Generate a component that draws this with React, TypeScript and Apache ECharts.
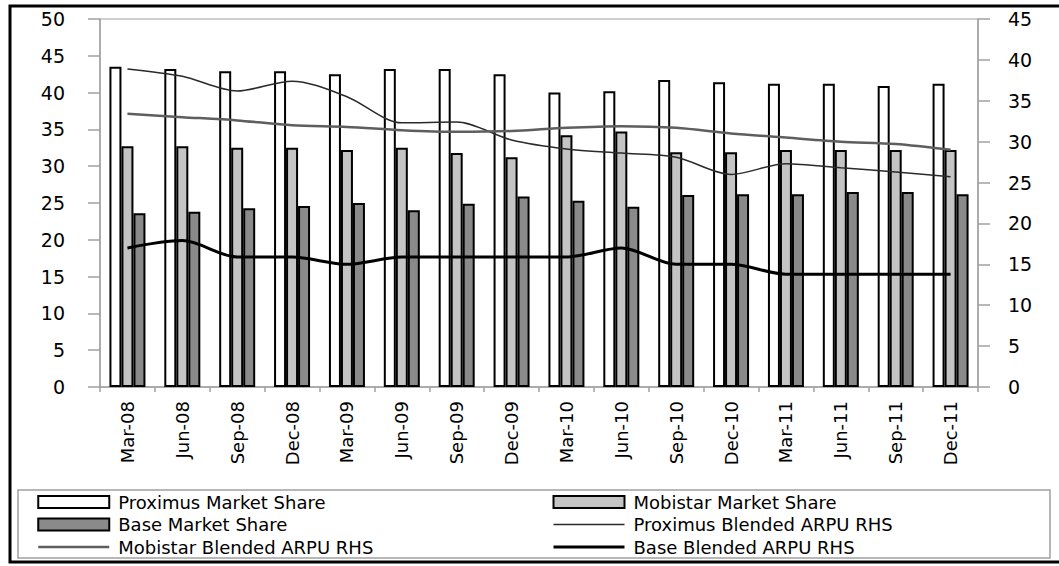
import React, { useEffect, useRef } from "react";
import * as echarts from "echarts";

const categories = ["Mar-08", "Jun-08", "Sep-08", "Dec-08", "Mar-09", "Jun-09", "Sep-09", "Dec-09", "Mar-10", "Jun-10", "Sep-10", "Dec-10", "Mar-11", "Jun-11", "Sep-11", "Dec-11"];
const proximusShare = [43.5, 43.2, 42.9, 42.9, 42.5, 43.2, 43.2, 42.5, 40.0, 40.2, 41.7, 41.4, 41.2, 41.2, 40.9, 41.2];
const mobistarShare = [32.7, 32.7, 32.5, 32.5, 32.2, 32.5, 31.8, 31.2, 34.2, 34.7, 31.9, 31.9, 32.2, 32.2, 32.2, 32.2];
const baseShare = [23.6, 23.8, 24.3, 24.6, 25.0, 24.0, 24.9, 25.9, 25.3, 24.5, 26.1, 26.2, 26.2, 26.5, 26.5, 26.2];
const proximusARPU = [38.9, 38.0, 36.2, 37.4, 35.5, 32.3, 32.4, 30.2, 29.1, 28.6, 28.1, 26.0, 27.3, 26.8, 26.3, 25.7];
const mobistarARPU = [33.4, 33.0, 32.6, 32.0, 31.8, 31.4, 31.2, 31.3, 31.7, 31.9, 31.7, 31.0, 30.5, 30.0, 29.7, 29.0];
const baseARPU = [17.0, 17.9, 15.9, 15.9, 15.0, 15.9, 15.9, 15.9, 15.9, 17.0, 15.0, 15.0, 13.8, 13.8, 13.8, 13.8];

const N_PROX_MS = "Proximus Market Share";
const N_MOB_MS = "Mobistar Market Share";
const N_BASE_MS = "Base Market Share";
const N_PROX_ARPU = "Proximus Blended ARPU RHS";
const N_MOB_ARPU = "Mobistar Blended ARPU RHS";
const N_BASE_ARPU = "Base Blended ARPU RHS";

export default function App() {
  const ref = useRef<HTMLDivElement>(null);
  useEffect(() => {
    const chart = echarts.init(ref.current!, null, { renderer: "svg" });
    const font = "DejaVu Sans";
    const axisGray = "#a0a0a0";
    const proxStyle = { color: "#ffffff", borderColor: "#000", borderWidth: 2 };
    const mobStyle = { color: "#c4c4c4", borderColor: "#000", borderWidth: 2 };
    const baseStyle = { color: "#8a8a8a", borderColor: "#000", borderWidth: 2 };
    const proxLine = { color: "#2a2a2a", width: 1.5 };
    const mobLine = { color: "#5e5e5e", width: 2.5 };
    const baseLine = { color: "#000000", width: 3 };
    const hiddenSymbol = { opacity: 0, color: "transparent", borderWidth: 0 };
    const legendCommon = {
      orient: "vertical",
      top: 493,
      padding: 0,
      itemWidth: 71,
      itemHeight: 12,
      itemGap: 4.5,
      textStyle: { fontFamily: font, fontSize: 18, color: "#000", lineHeight: 18, padding: [0, 0, 0, 4] },
    };
    chart.setOption({
      animation: false,
      backgroundColor: "#ffffff",
      textStyle: { fontFamily: font },
      grid: { left: 100, right: 81, top: 19, bottom: 179, show: true, borderColor: axisGray, borderWidth: 1 },
      graphic: [
        { type: "rect", silent: true, shape: { x: 10, y: 6, width: 1100, height: 556 }, style: { fill: "none", stroke: "#000", lineWidth: 3 } },
        { type: "rect", silent: true, shape: { x: 18, y: 490, width: 1032, height: 68 }, style: { fill: "none", stroke: axisGray, lineWidth: 1.5 } },
      ],
      xAxis: {
        type: "category",
        data: categories,
        boundaryGap: true,
        axisLine: { lineStyle: { color: axisGray, width: 1.5 } },
        axisTick: { show: true, length: 5, lineStyle: { color: axisGray, width: 1.5 } },
        axisLabel: { rotate: 90, margin: 14, color: "#000", fontSize: 18, fontFamily: font, interval: 0 },
      },
      yAxis: [
        {
          type: "value", min: 0, max: 50, interval: 5, position: "left",
          axisLine: { show: true, lineStyle: { color: axisGray, width: 1.5 } },
          axisTick: { show: true, length: 12, lineStyle: { color: axisGray, width: 1.5 } },
          splitLine: { show: false },
          axisLabel: { margin: 35, color: "#000", fontSize: 19, fontFamily: font },
        },
        {
          type: "value", min: 0, max: 45, interval: 5, position: "right",
          axisLine: { show: true, lineStyle: { color: axisGray, width: 1.5 } },
          axisTick: { show: true, length: 12, lineStyle: { color: axisGray, width: 1.5 } },
          splitLine: { show: false },
          axisLabel: { margin: 30, color: "#000", fontSize: 19, fontFamily: font },
        },
      ],
      legend: [
        {
          ...legendCommon,
          left: 37,
          data: [
            { name: N_PROX_MS, icon: "rect", itemStyle: proxStyle },
            { name: N_BASE_MS, icon: "rect", itemStyle: baseStyle },
            { name: N_MOB_ARPU, lineStyle: mobLine, itemStyle: hiddenSymbol },
          ],
        },
        {
          ...legendCommon,
          left: 552,
          data: [
            { name: N_MOB_MS, icon: "rect", itemStyle: mobStyle },
            { name: N_PROX_ARPU, lineStyle: proxLine, itemStyle: hiddenSymbol },
            { name: N_BASE_ARPU, lineStyle: baseLine, itemStyle: hiddenSymbol },
          ],
        },
      ],
      series: [
        { name: N_PROX_MS, type: "bar", data: proximusShare, barWidth: 12, barGap: "0%", itemStyle: proxStyle },
        { name: N_MOB_MS, type: "bar", data: mobistarShare, barWidth: 12, barGap: "0%", itemStyle: mobStyle },
        { name: N_BASE_MS, type: "bar", data: baseShare, barWidth: 12, barGap: "0%", itemStyle: baseStyle },
        { name: N_PROX_ARPU, type: "line", yAxisIndex: 1, data: proximusARPU, symbol: "none", smooth: 0.3, lineStyle: proxLine, itemStyle: { color: proxLine.color }, z: 5 },
        { name: N_MOB_ARPU, type: "line", yAxisIndex: 1, data: mobistarARPU, symbol: "none", smooth: 0.3, lineStyle: mobLine, itemStyle: { color: mobLine.color }, z: 5 },
        { name: N_BASE_ARPU, type: "line", yAxisIndex: 1, data: baseARPU, symbol: "none", smooth: 0.3, lineStyle: baseLine, itemStyle: { color: baseLine.color }, z: 6 },
      ],
    });
    return () => chart.dispose();
  }, []);
  return <div ref={ref} style={{ position: "fixed", left: 0, top: 0, width: 1059, height: 566 }} />;
}
